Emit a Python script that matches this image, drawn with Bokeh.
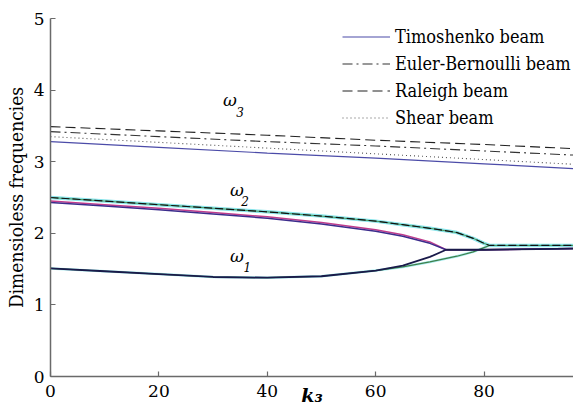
from bokeh.plotting import figure
from bokeh.models import Legend, LegendItem, FixedTicker, Range1d
from bokeh.embed import file_html
from bokeh.resources import INLINE
from bokeh.core.properties import value

SERIF = "DejaVu Serif"
SERIF_C = "DejaVu Serif Condensed"

# ---- data ----
k3_w3 = [0, 20, 40, 60, 80, 100]
timoshenko_w3 = [3.28, 3.20, 3.12, 3.05, 2.97, 2.89]
euler_w3 = [3.42, 3.35, 3.28, 3.22, 3.15, 3.08]
raleigh_w3 = [3.49, 3.43, 3.37, 3.30, 3.24, 3.17]
shear_w3 = [3.35, 3.27, 3.19, 3.11, 3.03, 2.95]

# group A (bifurcation near k3 = 73)
k3_a = [0, 10, 20, 30, 40, 50, 60, 65, 70, 73]
w2_a_purple = [2.43, 2.38, 2.33, 2.27, 2.21, 2.13, 2.03, 1.96, 1.86, 1.77]
w2_a_magenta = [2.45, 2.40, 2.35, 2.29, 2.23, 2.15, 2.05, 1.98, 1.88, 1.77]
w1_a = [1.51, 1.47, 1.43, 1.39, 1.38, 1.40, 1.48, 1.55, 1.67, 1.77]
k3_a_merged = [73, 80, 90, 100]
w_a_merged = [1.77, 1.77, 1.78, 1.79]

# group B (bifurcation near k3 = 81)
k3_b = [0, 10, 20, 30, 40, 50, 60, 65, 70, 75, 78, 80, 81]
w2_b = [2.50, 2.45, 2.40, 2.35, 2.30, 2.24, 2.17, 2.12, 2.07, 2.01, 1.93, 1.86, 1.83]
w1_b = [1.51, 1.47, 1.43, 1.39, 1.38, 1.40, 1.48, 1.53, 1.60, 1.68, 1.74, 1.80, 1.83]
k3_b_merged = [81, 90, 100]
w_b_merged = [1.83, 1.83, 1.83]

x_ticks = [0, 20, 40, 60, 80, 100]
y_ticks = [0, 1, 2, 3, 4, 5]

legend_labels = ["Timoshenko beam", "Euler-Bernoulli beam", "Raleigh beam", "Shear beam"]

omega_x = [33.1, 34.4, 34.4]
omega_y = [3.86, 2.60, 1.68]
sub_x = [35.0, 35.9, 36.3]
sub_y = [3.70, 2.45, 1.53]
sub_text = ["3", "2", "1"]

# ---- figure ----
p = figure(width=573, height=411, output_backend="svg", toolbar_location=None,
           x_range=Range1d(0, 96.5), y_range=Range1d(0, 5),
           min_border_left=50, min_border_right=0, min_border_top=18,
           min_border_bottom=35)
p.outline_line_color = None
p.xgrid.visible = False
p.ygrid.visible = False
p.background_fill_color = "white"
p.border_fill_color = "white"

for ax in (p.xaxis[0], p.yaxis[0]):
    ax.axis_line_color = "#6a6a6a"
    ax.axis_line_width = 1.5
    ax.major_tick_line_color = "#6a6a6a"
    ax.major_tick_line_width = 1.2
    ax.major_tick_in = 5
    ax.major_tick_out = 0
    ax.minor_tick_line_color = None
    ax.major_label_text_font = SERIF
    ax.major_label_text_font_size = "17px"
    ax.major_label_text_color = "black"

p.xaxis.ticker = FixedTicker(ticks=x_ticks)
p.yaxis.ticker = FixedTicker(ticks=y_ticks)
p.xaxis.major_label_standoff = 8
p.yaxis.major_label_standoff = 6
p.yaxis.axis_label = "Dimensioless frequencies"
p.yaxis.axis_label_text_font = SERIF_C
p.yaxis.axis_label_text_font_size = "19px"
p.yaxis.axis_label_text_font_style = "normal"
p.yaxis.axis_label_text_color = "black"
p.yaxis.axis_label_standoff = 4

p.xaxis.axis_label = "k\u2083"
p.xaxis.axis_label_text_font = SERIF
p.xaxis.axis_label_text_font_size = "19px"
p.xaxis.axis_label_text_font_style = "bold italic"
p.xaxis.axis_label_text_color = "black"
p.xaxis.axis_label_standoff = -16

# omega_3 family
r_t = p.line(k3_w3, timoshenko_w3, line_color="#4b4ba8", line_width=1.2)
r_e = p.line(k3_w3, euler_w3, line_color="#333333", line_width=1.1, line_dash="10 4 2 4")
r_r = p.line(k3_w3, raleigh_w3, line_color="#222222", line_width=1.1, line_dash="10 5")
r_s = p.line(k3_w3, shear_w3, line_color="#555555", line_width=1.1, line_dash="1 3")

# omega_1 / omega_2 group B
kb_up = k3_b + k3_b_merged[1:]
p.line(kb_up, w2_b + w_b_merged[1:], line_color="#8ae4ea", line_width=3.5)
p.line(k3_b, w1_b, line_color="#a6ecee", line_width=2.5)
p.line(kb_up, w2_b + w_b_merged[1:], line_color="#4a9a5a", line_width=1)
p.line(k3_b, w1_b, line_color="#3f7f4a", line_width=1.2)
p.line(kb_up, w2_b + w_b_merged[1:], line_color="#111111", line_width=1.2, line_dash="8 3")

# group A
ka = k3_a + k3_a_merged[1:]
p.line(ka, w2_a_magenta + w_a_merged[1:], line_color="#c03c8c", line_width=1.5)
p.line(ka, w2_a_purple + w_a_merged[1:], line_color="#3c2c8c", line_width=1.5)
p.line(ka, w1_a + w_a_merged[1:], line_color="#1a1a4a", line_width=1.8)

# omega labels
p.text(x=omega_x, y=omega_y, text=["ω", "ω", "ω"], text_font=value(SERIF),
       text_font_style="italic", text_font_size="17px", text_align="center",
       text_baseline="middle", text_color="black")
p.text(x=sub_x, y=sub_y, text=sub_text, text_font=value(SERIF),
       text_font_style="italic", text_font_size="12px", text_align="center",
       text_baseline="middle", text_color="black")

legend = Legend(items=[LegendItem(label=legend_labels[0], renderers=[r_t]),
                       LegendItem(label=legend_labels[1], renderers=[r_e]),
                       LegendItem(label=legend_labels[2], renderers=[r_r]),
                       LegendItem(label=legend_labels[3], renderers=[r_s])],
                location=(292, 245), border_line_color=None, background_fill_alpha=0,
                padding=0, margin=0, spacing=0, glyph_width=48, glyph_height=27,
                label_height=27, label_standoff=5, label_text_font=SERIF_C,
                label_text_font_size="18px", label_text_color="black")
p.add_layout(legend)

open("out.html", "w").write(file_html(p, INLINE))
